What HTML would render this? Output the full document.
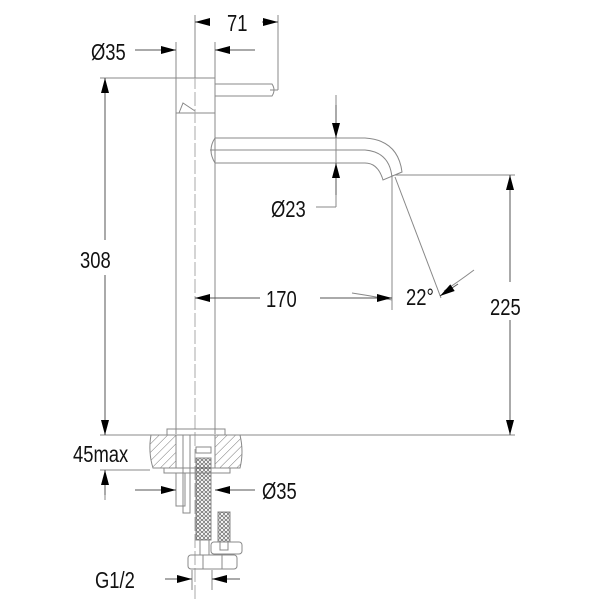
<!DOCTYPE html>
<html><head><style>body{margin:0;background:#fff}svg{display:block}text{font-family:"Liberation Sans",sans-serif;fill:#111}</style></head>
<body>
<svg width="600" height="600" viewBox="0 0 600 600" xmlns="http://www.w3.org/2000/svg">
<defs>
<pattern id="h" width="6" height="6" patternUnits="userSpaceOnUse" patternTransform="rotate(45)"><line x1="0" y1="0" x2="0" y2="6" stroke="#777" stroke-width="1"/></pattern>
<pattern id="m" width="4" height="4" patternUnits="userSpaceOnUse"><circle cx="2" cy="2" r="1.5" fill="none" stroke="#666" stroke-width="0.7"/></pattern>
</defs>
<g stroke="#888" stroke-width="1" fill="none">
<rect x="176" y="78" width="39" height="35"/>
<line x1="176" y1="113" x2="176" y2="434"/><line x1="215" y1="113" x2="215" y2="434"/>
<path d="M179,113 L183,103 L195,111"/>
<line x1="195" y1="58" x2="195" y2="600" stroke-dasharray="14,3" stroke="#aaa"/>
<path d="M215,84 H272 Q276,90 272,96 H215"/>
<path d="M215,138 H365 Q398,140 402,172 L383,180 Q378,163 365,163 H215"/>
<path d="M210,150 H365 Q390,152 392,178"/>
<path d="M215,138 Q207,150 215,163"/>
<line x1="195" y1="15" x2="195" y2="78"/>
<line x1="278" y1="15" x2="278" y2="90"/>
<line x1="278" y1="90" x2="270" y2="90"/>
<line x1="176" y1="42" x2="176" y2="78"/><line x1="215" y1="42" x2="215" y2="78"/>
<line x1="100" y1="78" x2="176" y2="78"/>
<line x1="100" y1="435" x2="515" y2="435"/>
<line x1="100" y1="470" x2="150" y2="470"/>
<line x1="395" y1="175" x2="515" y2="175"/>
<line x1="392" y1="175" x2="392" y2="310"/>
<line x1="395" y1="177" x2="441" y2="298"/>
<path d="M352,293 Q372,296 392,300"/>
<path d="M444,291 Q458,282 474,270"/>
<line x1="336" y1="95" x2="336" y2="207"/><line x1="316" y1="207" x2="336" y2="207"/>
<line x1="105" y1="470" x2="105" y2="500"/>
<path d="M151,435 H176 V468 H153 Q148,452 151,435Z" fill="url(#h)"/>
<path d="M215,435 H240 Q244,452 240,468 H215Z" fill="url(#h)"/>
<rect x="167" y="429" width="58" height="6"/>
<rect x="164" y="468" width="66" height="5"/>
<rect x="183" y="435" width="7" height="78"/>
<rect x="176" y="473" width="9" height="33"/>
<rect x="196" y="447" width="15" height="6"/>
<rect x="196" y="458" width="15" height="82" fill="url(#m)"/>
<rect x="218" y="512" width="12" height="30" fill="url(#m)"/>
<rect x="200" y="540" width="9" height="15"/>
<rect x="220" y="542" width="8" height="8"/>
<rect x="211" y="542" width="31" height="12" rx="3"/>
<rect x="188" y="555" width="49" height="14" rx="3"/>
<line x1="203" y1="555" x2="203" y2="569"/><line x1="222" y1="555" x2="222" y2="569"/>
<line x1="192" y1="570" x2="192" y2="590"/><line x1="212" y1="570" x2="212" y2="590"/>
</g>
<g stroke="#555" stroke-width="1" fill="none">
<line x1="210" y1="22" x2="195" y2="22"/><line x1="262" y1="22" x2="278" y2="22"/>
<line x1="135" y1="50" x2="176" y2="50"/><line x1="255" y1="50" x2="215" y2="50"/>
<line x1="105" y1="240" x2="105" y2="78"/><line x1="105" y1="275" x2="105" y2="435"/>
<line x1="105" y1="495" x2="105" y2="470"/>
<line x1="510" y1="282" x2="510" y2="175"/><line x1="510" y1="320" x2="510" y2="435"/>
<line x1="260" y1="298" x2="195" y2="298"/><line x1="320" y1="298" x2="392" y2="298"/>
<line x1="336" y1="105" x2="336" y2="138"/><line x1="336" y1="195" x2="336" y2="163"/>
<line x1="458" y1="284" x2="440" y2="296"/>
<line x1="135" y1="490" x2="176" y2="490"/><line x1="255" y1="490" x2="215" y2="490"/>
<line x1="165" y1="579" x2="192" y2="579"/><line x1="240" y1="579" x2="212" y2="579"/>
</g>
<g fill="#000">
<polygon points="195,22 210,18 210,26"/><polygon points="278,22 263,18 263,26"/>
<polygon points="176,50 161,46 161,54"/><polygon points="215,50 230,46 230,54"/>
<polygon points="105,78 101,93 109,93"/><polygon points="105,435 101,420 109,420"/>
<polygon points="105,470 101,485 109,485"/>
<polygon points="510,175 506,190 514,190"/><polygon points="510,435 506,420 514,420"/>
<polygon points="195,298 210,294 210,302"/><polygon points="392,298 377,294 377,302"/>
<polygon points="336,138 332,123 340,123"/><polygon points="336,163 332,178 340,178"/>
<polygon points="440,296 454.7,291 450.3,284.4"/>
<polygon points="176,490 161,486 161,494"/><polygon points="215,490 230,486 230,494"/>
<polygon points="192,579 177,575 177,583"/><polygon points="212,579 227,575 227,583"/>
</g>
<g font-size="23">
<text transform="translate(227,31) scale(0.8,1)">71</text>
<text transform="translate(91,60) scale(0.8,1)">Ø35</text>
<text transform="translate(80,268) scale(0.8,1)">308</text>
<text transform="translate(271,217) scale(0.8,1)">Ø23</text>
<text transform="translate(266,307) scale(0.8,1)">170</text>
<text transform="translate(406,305) scale(0.8,1)">22°</text>
<text transform="translate(490,315) scale(0.8,1)">225</text>
<text transform="translate(73,462) scale(0.8,1)">45max</text>
<text transform="translate(262,499) scale(0.8,1)">Ø35</text>
<text transform="translate(95,588) scale(0.8,1)">G1/2</text>
</g>
</svg>
</body></html>
